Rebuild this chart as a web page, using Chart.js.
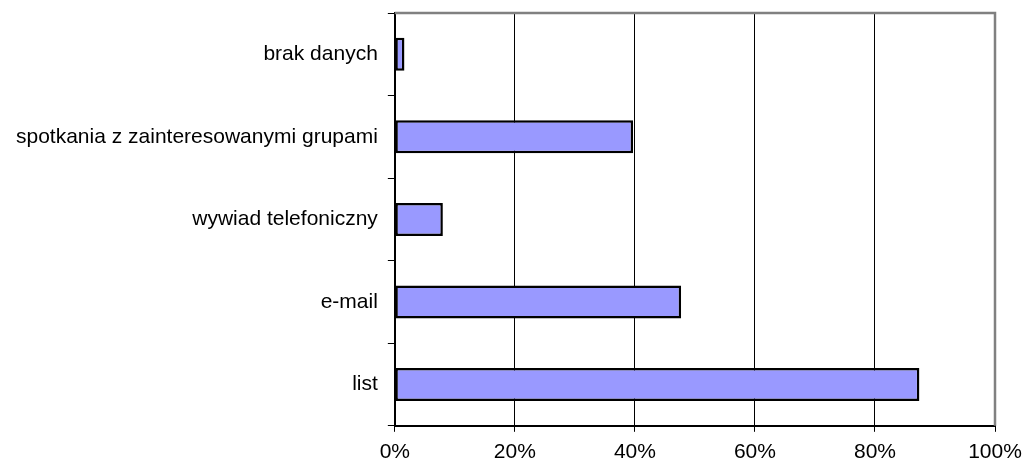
<!DOCTYPE html>
<html>
<head>
<meta charset="utf-8">
<script src="https://cdn.jsdelivr.net/npm/chart.js@4"></script>
<style>
  html, body { margin: 0; padding: 0; background: #fff; }
  #wrap { width: 1024px; height: 463px; }
</style>
</head>
<body>
<div id="wrap"><canvas id="chart"></canvas></div>
<script>
// data
const categories = ["brak danych", "spotkania z zainteresowanymi grupami", "wywiad telefoniczny", "e-mail", "list"];
const shares = [1.6, 39.7, 8.0, 47.7, 87.4];
const xTicks = [0, 20, 40, 60, 80, 100];

// grey top + right frame like the original
const framePlugin = {
  id: "frame",
  afterDraw(chart) {
    const { ctx, chartArea: a } = chart;
    ctx.save();
    ctx.strokeStyle = "#808080";
    ctx.lineWidth = 2.5;
    ctx.beginPath();
    ctx.moveTo(a.left, a.top);
    ctx.lineTo(a.right, a.top);
    ctx.lineTo(a.right, a.bottom);
    ctx.stroke();
    ctx.restore();
  }
};

// let layout.padding alone decide the plot edges
const noEdgePadding = (s) => {
  s.paddingTop = 0;
  s.paddingBottom = 0;
  s.paddingLeft = 0;
  s.paddingRight = 0;
};

const ctx = document.getElementById("chart").getContext("2d");
new Chart(ctx, {
  type: "bar",
  data: {
    labels: categories,
    datasets: [{
      data: shares,
      backgroundColor: "#9999FF",
      borderColor: "#000000",
      borderWidth: 2.5,
      borderSkipped: false,
      categoryPercentage: 1,
      barPercentage: 0.4
    }]
  },
  options: {
    indexAxis: "y",
    responsive: true,
    maintainAspectRatio: false,
    animation: false,
    layout: { padding: { left: 6, right: 29, top: 13, bottom: -10 } },
    plugins: { legend: { display: false }, tooltip: { enabled: false } },
    scales: {
      x: {
        min: 0,
        max: 100,
        afterBuildTicks: (scale) => { scale.ticks = xTicks.map(v => ({ value: v })); },
        afterFit: noEdgePadding,
        ticks: {
          color: "#000",
          font: { family: "Liberation Sans, Arial", size: 21 },
          padding: 8,
          maxRotation: 0,
          callback: (v) => v + "%"
        },
        grid: {
          color: (c) => c.tick && c.tick.value === 100 ? "#808080" : "#000",
          lineWidth: 1,
          tickLength: 6,
          tickColor: "#000"
        },
        border: { color: "#000", width: 2 }
      },
      y: {
        afterFit: noEdgePadding,
        ticks: {
          color: "#000",
          font: { family: "Liberation Sans, Arial", size: 21 },
          padding: 10
        },
        grid: {
          offset: true,
          drawOnChartArea: false,
          tickLength: 7,
          color: "#000"
        },
        border: { color: "#000", width: 2 }
      }
    }
  },
  plugins: [framePlugin]
});
</script>
</body>
</html>
